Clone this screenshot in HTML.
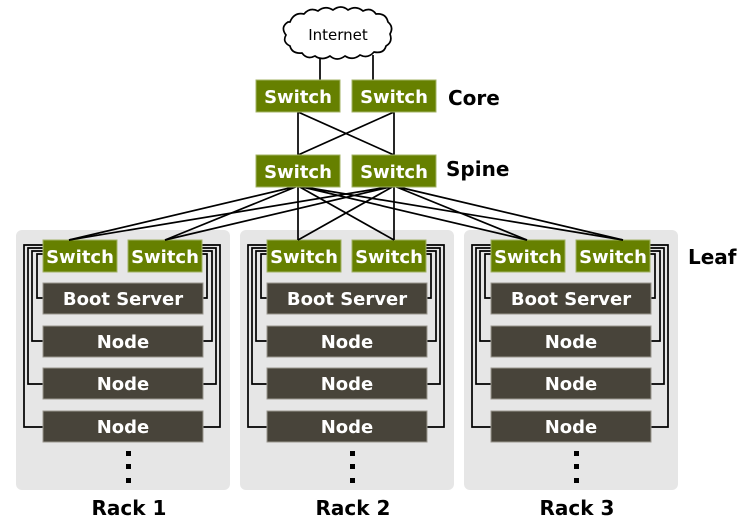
<!DOCTYPE html>
<html><head><style>
html,body{margin:0;padding:0;background:#fff;}
svg{display:block;}
text{font-family:"DejaVu Sans","Liberation Sans",sans-serif;}
.sw{fill:#668000;stroke:#a3b366;stroke-width:1}
.nd{fill:#48443a;stroke:#9a978f;stroke-width:1}
.wt{fill:#fff;font-weight:bold;font-size:18px;text-anchor:middle}
.w{fill:none;stroke:#000;stroke-width:1.7}
.lb{fill:#000;font-weight:bold;font-size:20px}
</style></head><body>
<svg width="752" height="528" viewBox="0 0 752 528" xmlns="http://www.w3.org/2000/svg">
<defs>
<g id="rack">
<rect x="16" y="230" width="214" height="260" rx="6" fill="#e6e6e6"/>
<path class="w" d="M43,245H24V427H43M43,248H28V384H43M43,251H32V341H43M43,254H37V298H43"/>
<path class="w" d="M202,245H220V427H203M202,248H216V384H203M202,251H212V341H203M202,254H207V298H203"/>
<rect class="sw" x="43" y="240" width="74" height="32"/>
<rect class="sw" x="128" y="240" width="74" height="32"/>
<rect class="nd" x="43" y="283" width="160" height="31"/>
<rect class="nd" x="43" y="326" width="160" height="31"/>
<rect class="nd" x="43" y="368" width="160" height="31"/>
<rect class="nd" x="43" y="411" width="160" height="31"/>
<rect x="126" y="451" width="5" height="5" fill="#000"/>
<rect x="126" y="464" width="5" height="5" fill="#000"/>
<rect x="126" y="478" width="5" height="5" fill="#000"/>
</g>
</defs>
<use href="#rack"/>
<use href="#rack" x="224"/>
<use href="#rack" x="448"/>
<g class="w">
<path d="M298,186L69,240M298,186L165,240M298,186L298,240M298,186L394,240M298,186L527,240M298,186L623,240"/>
<path d="M394,186L69,240M394,186L165,240M394,186L298,240M394,186L394,240M394,186L527,240M394,186L623,240"/>
<path d="M298,112V155M394,112V155M298,112L394,155M394,112L298,155"/>
<path d="M320,55V80M373,55V80"/>
</g>
<path d="M290,22 q4,-10 14,-8 q6,-7 14,-3 q7,-6 15,-1 q8,-6 15,0 q8,-5 15,1 q8,-4 13,3 q10,-1 12,8 q6,5 2,12 q3,8 -4,12 q-2,8 -12,6 q-6,7 -14,3 q-7,6 -15,1 q-8,6 -15,0 q-8,5 -15,0 q-8,4 -13,-3 q-10,1 -12,-7 q-8,-4 -4,-11 q-6,-8 2,-13z" fill="#fff" stroke="#000" stroke-width="1.7"/>
<text x="338" y="40" font-size="15" text-anchor="middle" fill="#000">Internet</text>
<rect class="sw" x="256" y="80" width="84" height="32"/>
<rect class="sw" x="352" y="80" width="84" height="32"/>
<rect class="sw" x="256" y="155" width="84" height="32"/>
<rect class="sw" x="352" y="155" width="84" height="32"/>
<text class="wt" x="298" y="103">Switch</text>
<text class="wt" x="394" y="103">Switch</text>
<text class="wt" x="298" y="178">Switch</text>
<text class="wt" x="394" y="178">Switch</text>
<text class="lb" x="448" y="105">Core</text>
<text class="lb" x="446" y="176">Spine</text>
<text class="lb" x="688" y="264">Leaf</text>
<g>
<text class="wt" x="80" y="263">Switch</text><text class="wt" x="165" y="263">Switch</text>
<text class="wt" x="123" y="305">Boot Server</text><text class="wt" x="123" y="348">Node</text>
<text class="wt" x="123" y="390">Node</text><text class="wt" x="123" y="433">Node</text>
<text class="lb" x="129" y="515" text-anchor="middle">Rack 1</text>
</g>
<g transform="translate(224,0)">
<text class="wt" x="80" y="263">Switch</text><text class="wt" x="165" y="263">Switch</text>
<text class="wt" x="123" y="305">Boot Server</text><text class="wt" x="123" y="348">Node</text>
<text class="wt" x="123" y="390">Node</text><text class="wt" x="123" y="433">Node</text>
<text class="lb" x="129" y="515" text-anchor="middle">Rack 2</text>
</g>
<g transform="translate(448,0)">
<text class="wt" x="80" y="263">Switch</text><text class="wt" x="165" y="263">Switch</text>
<text class="wt" x="123" y="305">Boot Server</text><text class="wt" x="123" y="348">Node</text>
<text class="wt" x="123" y="390">Node</text><text class="wt" x="123" y="433">Node</text>
<text class="lb" x="129" y="515" text-anchor="middle">Rack 3</text>
</g>
</svg>
</body></html>
